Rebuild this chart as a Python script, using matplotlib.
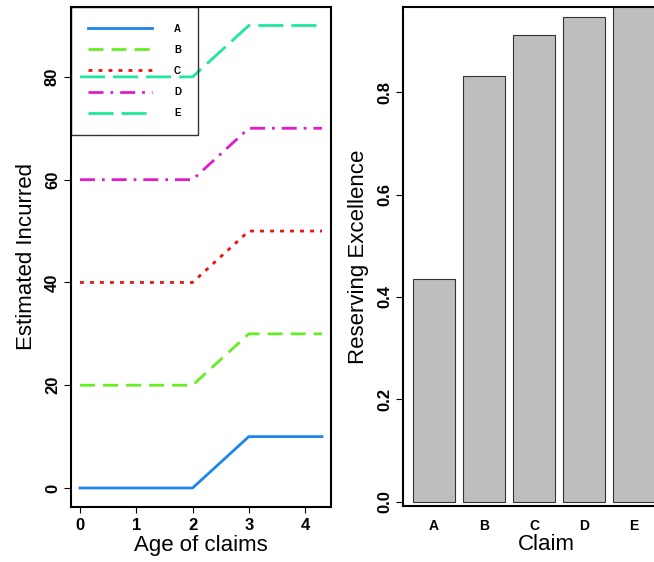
import numpy as np
import matplotlib
matplotlib.use("Agg")
import matplotlib.pyplot as plt

plt.rcParams['font.family'] = ['Liberation Sans', 'DejaVu Sans']

# data
age = [0, 2, 3, 4.3]
incurred = {
    'A': [0, 0, 10, 10],
    'B': [20, 20, 30, 30],
    'C': [40, 40, 50, 50],
    'D': [60, 60, 70, 70],
    'E': [80, 80, 90, 90],
}
claims = ['A', 'B', 'C', 'D', 'E']
excellence = [0.435, 0.831, 0.911, 0.946, 0.985]

colors = {'A': '#1C86EE', 'B': '#66EE22', 'C': '#EE1111', 'D': '#E21CCB', 'E': '#1EE89A'}
styles = {
    'A': '-',
    'B': (0, (5.4, 2.9)),
    'C': (0, (1.4, 2.2)),
    'D': (0, (5.4, 2.5, 1.0, 2.5)),
    'E': (0, (9, 2.9)),
}

fig = plt.figure(figsize=(6.54, 5.62), dpi=100)
W, H = 654, 562

def px_axes(l, t, r, b):
    return fig.add_axes([l / W, 1 - b / H, (r - l) / W, (b - t) / H])

ax1 = px_axes(71, 7, 331, 507)
for k in claims:
    ax1.plot(age, incurred[k], color=colors[k], linestyle=styles[k], lw=2.0, label=k)
ax1.set_xlim(-0.16, 4.46)
ax1.set_ylim(-3.7, 93.6)
ax1.set_xticks([0, 1, 2, 3, 4])
ax1.set_yticks([0, 20, 40, 60, 80])
ax1.set_xlabel('Age of claims', fontsize=16, labelpad=1)
ax1.set_ylabel('Estimated Incurred', fontsize=16, labelpad=6)
leg = ax1.legend(loc='upper left', borderaxespad=0, fancybox=False,
                 edgecolor='black', prop={'size': 7, 'weight': 'bold'},
                 handlelength=6.6, handletextpad=2.3, labelspacing=1.15, borderpad=1.7)
leg.get_frame().set_linewidth(1.0)
leg.get_frame().set_facecolor('none')

ax2 = px_axes(403, 7, 690, 506)
xpos = np.arange(len(claims))
ax2.bar(xpos, excellence, width=0.84, color='#BEBEBE', edgecolor='#333333', lw=0.8)
ax2.set_xlim(-0.62, 5.12)
ax2.set_ylim(-0.008, 0.966)
ax2.set_xticks(xpos)
ax2.set_xticklabels(claims)
ax2.set_yticks([0.0, 0.2, 0.4, 0.6, 0.8])
ax2.set_yticklabels(['0.0', '0.2', '0.4', '0.6', '0.8'])
ax2.set_xlabel('Claim', fontsize=16, labelpad=1)
ax2.set_ylabel('Reserving Excellence', fontsize=16, labelpad=6)

for ax in (ax1, ax2):
    for s in ax.spines.values():
        s.set_linewidth(1.5)
    ax.tick_params(axis='y', labelsize=12, length=5, width=0.8, labelrotation=90, pad=3)
    for t in ax.get_yticklabels():
        t.set_fontweight('bold')
        t.set_va('center')

ax1.tick_params(axis='x', labelsize=12, length=4, width=0.8, pad=4)
for t in ax1.get_xticklabels():
    t.set_fontweight('bold')
ax2.tick_params(axis='x', labelsize=10, length=0, pad=9)
for t in ax2.get_xticklabels():
    t.set_fontweight('bold')

fig.savefig('out.png', dpi=100)
